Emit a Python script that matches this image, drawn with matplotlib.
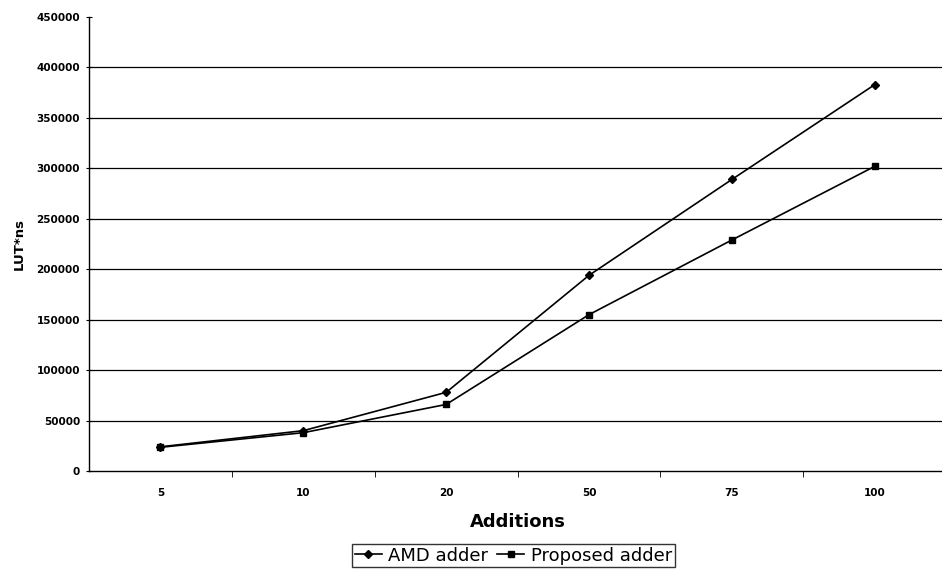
import matplotlib
matplotlib.use("Agg")
import matplotlib.pyplot as plt

additions = ["5", "10", "20", "50", "75", "100"]
amd_adder = [24000, 40000, 78000, 194000, 289000, 383000]
proposed_adder = [23500, 38000, 66000, 155000, 229000, 302000]
y_ticks = list(range(0, 450001, 50000))

plt.rcParams['font.family'] = ['DejaVu Sans']

fig = plt.figure(figsize=(9.42, 5.74), dpi=100)
ax = fig.add_axes([0.0945, 0.1794, 0.91, 0.791])

x = list(range(len(additions)))
ax.plot(x, amd_adder, color='black', lw=1.2, marker='D', markersize=4.5, label='AMD adder')
ax.plot(x, proposed_adder, color='black', lw=1.2, marker='s', markersize=5, label='Proposed adder')

ax.set_xlim(-0.5, len(additions) - 0.5)
ax.set_ylim(0, 450000)
ax.set_yticks(y_ticks)
ax.set_yticklabels([str(v) for v in y_ticks], fontsize=7.5, fontweight='bold')
ax.set_xticks(x)
ax.set_xticklabels(additions, fontsize=7.5, fontweight='bold')
ax.tick_params(axis='x', length=0, pad=12)
ax.set_xticks([i + 0.5 for i in x[:-1]], minor=True)
ax.tick_params(axis='x', which='minor', length=4, direction='out')
ax.tick_params(axis='y', length=5, direction='inout', pad=4)

# horizontal grid at every 50000, none on the top edge
for v in y_ticks[1:-1]:
    ax.axhline(v, color='black', lw=0.9, zorder=0)

for s in ['top', 'right']:
    ax.spines[s].set_visible(False)
ax.spines['left'].set_linewidth(1.0)
ax.spines['bottom'].set_linewidth(1.0)

ax.set_xlabel("Additions", fontsize=13, fontweight='bold', labelpad=11)
ax.set_ylabel("LUT*ns", fontsize=9.5, fontweight='bold', labelpad=8)

leg = fig.legend(loc='center', bbox_to_anchor=(0.545, 0.032), ncol=2, frameon=True,
                 fancybox=False, edgecolor='black', fontsize=13, handlelength=1.5,
                 handletextpad=0.35, columnspacing=0.5, borderpad=0.15, markerscale=0.8)
leg.get_frame().set_linewidth(1.0)

fig.savefig("out.png", dpi=100)
